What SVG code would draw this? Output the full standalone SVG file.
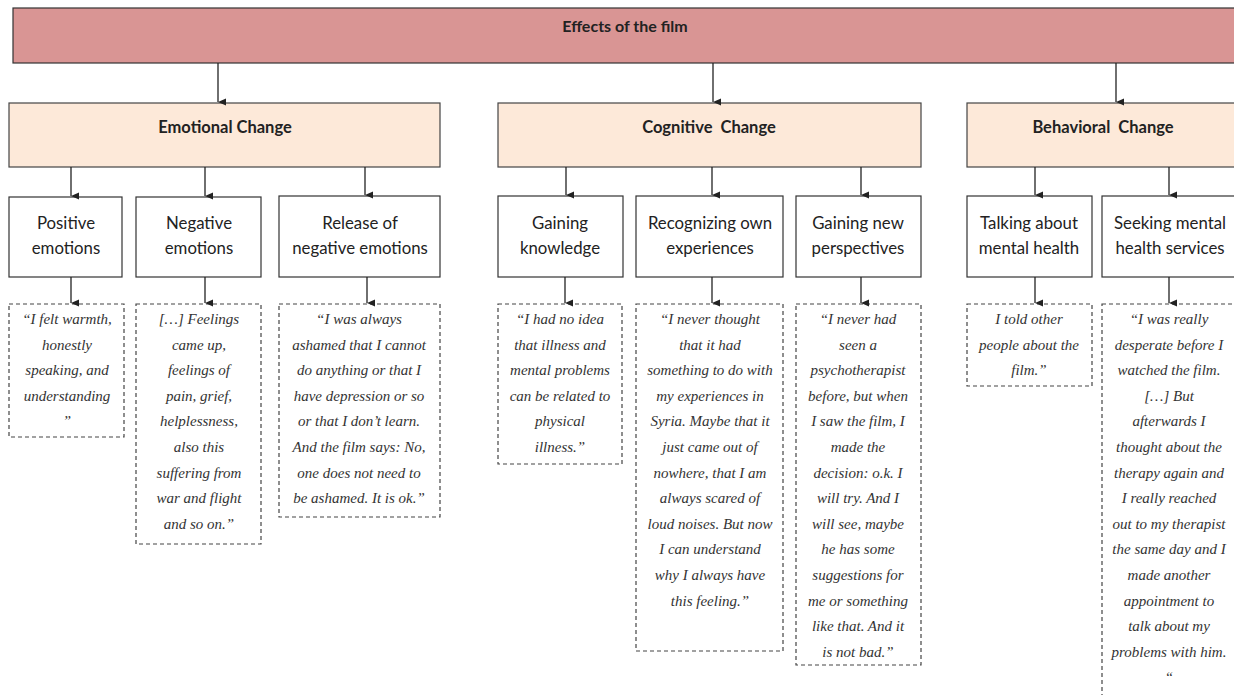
<svg xmlns="http://www.w3.org/2000/svg" width="1234" height="695" viewBox="0 0 1234 695">
<defs>
<marker id="ah" markerWidth="8" markerHeight="8" refX="4" refY="8" orient="auto" markerUnits="userSpaceOnUse" viewBox="0 0 8 8">
<path d="M0.5,0 L7.5,0 L4,8 Z" fill="#222"/>
</marker>
<style>
.title{fill:#d99594;stroke:#333;stroke-width:1.2}
.cat{fill:#fde9d9;stroke:#444;stroke-width:1.2}
.sub{fill:#fff;stroke:#333;stroke-width:1.2}
.q{fill:#fff;stroke:#444;stroke-width:1.2;stroke-dasharray:4,3}
.tt{font-family:Lato,'Open Sans',sans-serif;font-weight:bold;font-size:16px;fill:#222;text-anchor:middle}
.ct{font-family:Lato,'Open Sans',sans-serif;font-weight:bold;font-size:16.5px;fill:#222;text-anchor:middle}
.st{font-family:Lato,'Open Sans',sans-serif;font-size:16.8px;fill:#222;text-anchor:middle}
.qt{font-family:'Liberation Serif','Times New Roman',serif;font-style:italic;font-size:15px;fill:#333;text-anchor:middle}
.c{stroke:#222;stroke-width:1.3;fill:none;marker-end:url(#ah)}
</style>
</defs>
<rect width="1234" height="695" fill="#fff"/>

<g id="root">
<rect class="title" x="13" y="8" width="1230" height="55"/>
<text class="tt" x="625" y="32">Effects of the film</text>
</g>

<g id="emotional">
<rect class="cat" x="9" y="103" width="431" height="64"/>
<text class="ct" x="225" y="133">Emotional Change</text>
</g>
<g id="cognitive">
<rect class="cat" x="498" y="103" width="423" height="64"/>
<text class="ct" x="709" y="133" xml:space="preserve">Cognitive  Change</text>
</g>
<g id="behavioral">
<rect class="cat" x="967" y="103" width="280" height="64"/>
<text class="ct" x="1103" y="133" xml:space="preserve">Behavioral  Change</text>
</g>

<g id="positive">
<rect class="sub" x="9" y="197" width="113" height="80"/>
<text class="st"><tspan x="66" y="229">Positive</tspan><tspan x="66" y="254">emotions</tspan></text>
</g>
<g id="negative">
<rect class="sub" x="136" y="197" width="125" height="80"/>
<text class="st"><tspan x="199" y="229">Negative</tspan><tspan x="199" y="254">emotions</tspan></text>
</g>
<g id="release">
<rect class="sub" x="279" y="196" width="161" height="81"/>
<text class="st"><tspan x="360" y="229">Release of</tspan><tspan x="360" y="254">negative emotions</tspan></text>
</g>
<g id="knowledge">
<rect class="sub" x="498" y="196" width="125" height="81"/>
<text class="st"><tspan x="560" y="229">Gaining</tspan><tspan x="560" y="254">knowledge</tspan></text>
</g>
<g id="recognizing">
<rect class="sub" x="636" y="196" width="147" height="81"/>
<text class="st"><tspan x="710" y="229">Recognizing own</tspan><tspan x="710" y="254">experiences</tspan></text>
</g>
<g id="perspectives">
<rect class="sub" x="796" y="196" width="125" height="81"/>
<text class="st"><tspan x="858" y="229">Gaining new</tspan><tspan x="858" y="254">perspectives</tspan></text>
</g>
<g id="talking">
<rect class="sub" x="967" y="196" width="125" height="81"/>
<text class="st"><tspan x="1029" y="229">Talking about</tspan><tspan x="1029" y="254">mental health</tspan></text>
</g>
<g id="seeking">
<rect class="sub" x="1102" y="196" width="140" height="81"/>
<text class="st"><tspan x="1170" y="229">Seeking mental</tspan><tspan x="1170" y="254">health services</tspan></text>
</g>

<g id="q-positive">
<rect class="q" x="9" y="304" width="115" height="133"/>
<text class="qt"><tspan x="67" y="324">“I felt warmth,</tspan><tspan x="67" dy="25.6">honestly</tspan><tspan x="67" dy="25.6">speaking, and</tspan><tspan x="67" dy="25.6">understanding</tspan><tspan x="67" dy="25.6">”</tspan></text>
</g>
<g id="q-negative">
<rect class="q" x="136" y="304" width="125" height="240"/>
<text class="qt"><tspan x="199" y="324">[…] Feelings</tspan><tspan x="199" dy="25.6">came up,</tspan><tspan x="199" dy="25.6">feelings of</tspan><tspan x="199" dy="25.6">pain, grief,</tspan><tspan x="199" dy="25.6">helplessness,</tspan><tspan x="199" dy="25.6">also this</tspan><tspan x="199" dy="25.6">suffering from</tspan><tspan x="199" dy="25.6">war and flight</tspan><tspan x="199" dy="25.6">and so on.”</tspan></text>
</g>
<g id="q-release">
<rect class="q" x="279" y="304" width="161" height="213"/>
<text class="qt"><tspan x="359" y="324">“I was always</tspan><tspan x="359" dy="25.6">ashamed that I cannot</tspan><tspan x="359" dy="25.6">do anything or that I</tspan><tspan x="359" dy="25.6">have depression or so</tspan><tspan x="359" dy="25.6">or that I don’t learn.</tspan><tspan x="359" dy="25.6">And the film says: No,</tspan><tspan x="359" dy="25.6">one does not need to</tspan><tspan x="359" dy="25.6">be ashamed. It is ok.”</tspan></text>
</g>
<g id="q-knowledge">
<rect class="q" x="498" y="304" width="124" height="160"/>
<text class="qt"><tspan x="560" y="324">“I had no idea</tspan><tspan x="560" dy="25.6">that illness and</tspan><tspan x="560" dy="25.6">mental problems</tspan><tspan x="560" dy="25.6">can be related to</tspan><tspan x="560" dy="25.6">physical</tspan><tspan x="560" dy="25.6">illness.”</tspan></text>
</g>
<g id="q-recognizing">
<rect class="q" x="636" y="304" width="147" height="347"/>
<text class="qt"><tspan x="710" y="324">“I never thought</tspan><tspan x="710" dy="25.6">that it had</tspan><tspan x="710" dy="25.6">something to do with</tspan><tspan x="710" dy="25.6">my experiences in</tspan><tspan x="710" dy="25.6">Syria. Maybe that it</tspan><tspan x="710" dy="25.6">just came out of</tspan><tspan x="710" dy="25.6">nowhere, that I am</tspan><tspan x="710" dy="25.6">always scared of</tspan><tspan x="710" dy="25.6">loud noises. But now</tspan><tspan x="710" dy="25.6">I can understand</tspan><tspan x="710" dy="25.6">why I always have</tspan><tspan x="710" dy="25.6">this feeling.”</tspan></text>
</g>
<g id="q-perspectives">
<rect class="q" x="796" y="304" width="125" height="361"/>
<text class="qt"><tspan x="858" y="324">“I never had</tspan><tspan x="858" dy="25.6">seen a</tspan><tspan x="858" dy="25.6">psychotherapist</tspan><tspan x="858" dy="25.6">before, but when</tspan><tspan x="858" dy="25.6">I saw the film, I</tspan><tspan x="858" dy="25.6">made the</tspan><tspan x="858" dy="25.6">decision: o.k. I</tspan><tspan x="858" dy="25.6">will try. And I</tspan><tspan x="858" dy="25.6">will see, maybe</tspan><tspan x="858" dy="25.6">he has some</tspan><tspan x="858" dy="25.6">suggestions for</tspan><tspan x="858" dy="25.6">me or something</tspan><tspan x="858" dy="25.6">like that. And it</tspan><tspan x="858" dy="25.6">is not bad.”</tspan></text>
</g>
<g id="q-talking">
<rect class="q" x="967" y="304" width="125" height="82"/>
<text class="qt"><tspan x="1029" y="324">I told other</tspan><tspan x="1029" dy="25.6">people about the</tspan><tspan x="1029" dy="25.6">film.”</tspan></text>
</g>
<g id="q-seeking">
<rect class="q" x="1102" y="304" width="140" height="400"/>
<text class="qt"><tspan x="1169" y="324">“I was really</tspan><tspan x="1169" dy="25.6">desperate before I</tspan><tspan x="1169" dy="25.6">watched the film.</tspan><tspan x="1169" dy="25.6">[…] But</tspan><tspan x="1169" dy="25.6">afterwards I</tspan><tspan x="1169" dy="25.6">thought about the</tspan><tspan x="1169" dy="25.6">therapy again and</tspan><tspan x="1169" dy="25.6">I really reached</tspan><tspan x="1169" dy="25.6">out to my therapist</tspan><tspan x="1169" dy="25.6">the same day and I</tspan><tspan x="1169" dy="25.6">made another</tspan><tspan x="1169" dy="25.6">appointment to</tspan><tspan x="1169" dy="25.6">talk about my</tspan><tspan x="1169" dy="25.6">problems with him.</tspan><tspan x="1169" dy="25.6">“</tspan></text>
</g>

<g id="connectors">
<line class="c" x1="218" y1="63" x2="218" y2="102"/>
<line class="c" x1="713" y1="63" x2="713" y2="102"/>
<line class="c" x1="1116" y1="63" x2="1116" y2="102"/>
<line class="c" x1="71" y1="167" x2="71" y2="196"/>
<line class="c" x1="205" y1="167" x2="205" y2="196"/>
<line class="c" x1="365" y1="167" x2="365" y2="195"/>
<line class="c" x1="566" y1="167" x2="566" y2="195"/>
<line class="c" x1="712" y1="167" x2="712" y2="195"/>
<line class="c" x1="861" y1="167" x2="861" y2="195"/>
<line class="c" x1="1035" y1="167" x2="1035" y2="195"/>
<line class="c" x1="1169" y1="167" x2="1169" y2="195"/>
<line class="c" x1="71" y1="277" x2="71" y2="303"/>
<line class="c" x1="205" y1="277" x2="205" y2="303"/>
<line class="c" x1="367" y1="277" x2="367" y2="303"/>
<line class="c" x1="565" y1="277" x2="565" y2="303"/>
<line class="c" x1="712" y1="277" x2="712" y2="303"/>
<line class="c" x1="861" y1="277" x2="861" y2="303"/>
<line class="c" x1="1035" y1="277" x2="1035" y2="303"/>
<line class="c" x1="1169" y1="277" x2="1169" y2="303"/>
</g>
</svg>
